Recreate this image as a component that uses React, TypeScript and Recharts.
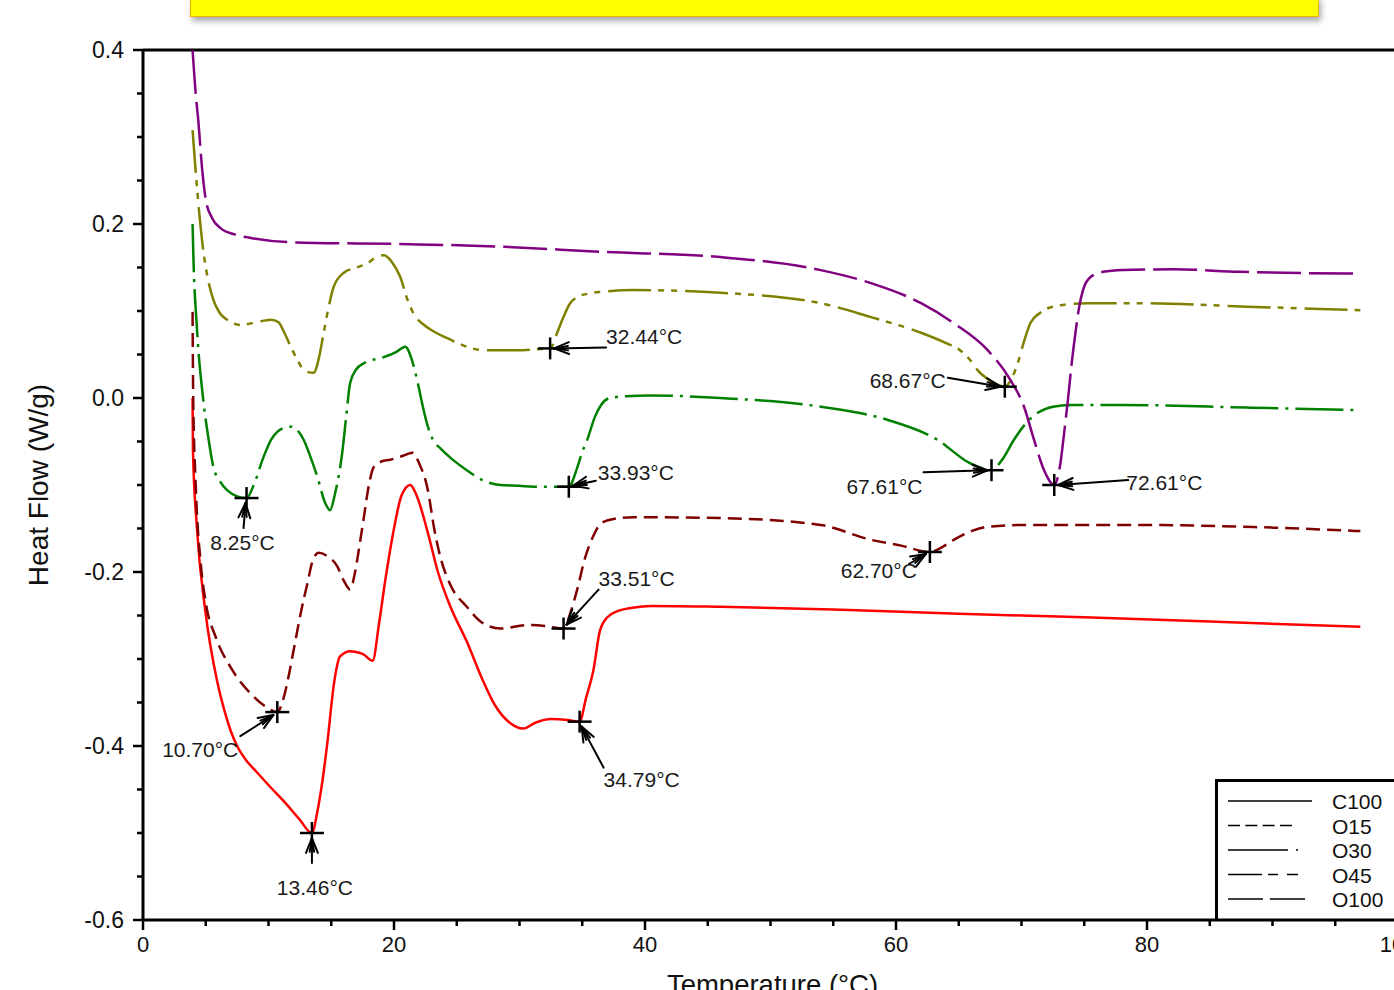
import React from "react";
import { LineChart, Line, XAxis, YAxis, ReferenceLine, ReferenceDot, Legend } from "recharts";

const FONT = '"Liberation Sans", Arial, Helvetica, sans-serif';

const xTicks = [0, 5, 10, 15, 20, 25, 30, 35, 40, 45, 50, 55, 60, 65, 70, 75, 80, 85, 90, 95, 100];
const yTicks = [
  -0.6, -0.55, -0.5, -0.45, -0.4, -0.35, -0.3, -0.25, -0.2, -0.15, -0.1, -0.05, 0, 0.05, 0.1, 0.15, 0.2,
  0.25, 0.3, 0.35, 0.4,
];

// [temperature °C, heat flow W/g]
const c100: [number, number][] = [
  [3.95, 0.0], [3.98, -0.06], [4.3, -0.15], [4.95, -0.243], [5.9, -0.325], [6.5, -0.36], [7.0, -0.383],
  [7.5, -0.4], [8.2, -0.416], [9.0, -0.429], [10.2, -0.448], [11.5, -0.468], [12.5, -0.485],
  [13.46, -0.5], [13.9, -0.475],
  [14.3, -0.44], [14.7, -0.395], [15.2, -0.33], [15.7, -0.297], [16.5, -0.291], [17.5, -0.294],
  [18.3, -0.302], [18.8, -0.26], [19.3, -0.21], [20.0, -0.15], [20.6, -0.112], [21.3, -0.1],
  [21.8, -0.112], [22.7, -0.155], [23.5, -0.2], [24.5, -0.24], [25.8, -0.28], [27.0, -0.322],
  [28.0, -0.352], [29.2, -0.373], [30.3, -0.38], [31.3, -0.373], [32.5, -0.369], [33.8, -0.37],
  [34.79, -0.372], [35.3, -0.345], [35.9, -0.312], [36.4, -0.268], [37.0, -0.252], [37.8, -0.245],
  [39.0, -0.241], [40.5, -0.239], [46, -0.24], [55, -0.243], [65, -0.248], [75, -0.252], [85, -0.257],
  [97, -0.263],
];

const o15: [number, number][] = [
  [3.95, 0.099], [4.0, 0.0], [4.2, -0.1], [4.6, -0.19], [5.0, -0.235], [5.8, -0.275], [7.0, -0.31],
  [8.6, -0.34], [9.7, -0.354], [10.7, -0.361], [11.2, -0.345], [11.6, -0.32], [12.0, -0.29],
  [12.6, -0.245], [13.1, -0.213], [13.5, -0.188], [14.0, -0.178], [14.6, -0.181], [15.5, -0.194],
  [16.0, -0.21], [16.5, -0.22], [16.9, -0.2], [17.3, -0.165], [17.6, -0.137], [18.0, -0.1],
  [18.4, -0.079], [19.0, -0.073], [19.7, -0.071], [20.6, -0.067], [21.5, -0.063], [22.0, -0.075],
  [22.7, -0.106], [23.2, -0.15], [23.7, -0.183], [24.5, -0.215], [25.8, -0.24], [27.0, -0.258],
  [28.5, -0.265], [30.6, -0.261], [32.0, -0.262], [33.51, -0.265], [34.1, -0.245], [34.6, -0.22],
  [35.2, -0.185], [35.9, -0.158], [36.5, -0.144], [37.5, -0.139], [39.1, -0.137], [46, -0.138],
  [54, -0.146], [58, -0.163], [60.5, -0.17], [62.7, -0.177], [63.6, -0.172], [64.6, -0.163],
  [66, -0.153], [67.3, -0.148], [69.9, -0.146], [80, -0.146], [90, -0.149], [97, -0.153],
];

const o30: [number, number][] = [
  [3.95, 0.2], [4.0, 0.17], [4.3, 0.08], [4.8, -0.002], [5.2, -0.045], [5.6, -0.079], [6.1, -0.095],
  [6.7, -0.106], [7.5, -0.113], [8.25, -0.115], [8.9, -0.097], [9.6, -0.068], [10.2, -0.048],
  [10.7, -0.039], [11.3, -0.034], [11.8, -0.033], [12.3, -0.037], [12.8, -0.048], [13.4, -0.07],
  [13.9, -0.091], [14.5, -0.12], [14.9, -0.129], [15.3, -0.11], [15.9, -0.06], [16.2, -0.02],
  [16.5, 0.017], [17.0, 0.033], [17.6, 0.04], [19.2, 0.047], [20.2, 0.053], [20.9, 0.059],
  [21.4, 0.045], [21.9, 0.017], [22.3, -0.01], [22.7, -0.033], [23.1, -0.048], [23.7, -0.058],
  [24.6, -0.07], [25.8, -0.083], [27.0, -0.094], [28.5, -0.1], [30.0, -0.101], [31.1, -0.102],
  [32.5, -0.102], [33.93, -0.102], [34.6, -0.08], [35.0, -0.062], [35.4, -0.048], [36.0, -0.022],
  [36.5, -0.008], [37.2, 0.0], [38.5, 0.002], [40.4, 0.003], [46, 0.0], [54, -0.01], [59.3, -0.025],
  [63.3, -0.048], [65.9, -0.075], [67.61, -0.083], [68.5, -0.07], [69.4, -0.048], [70.3, -0.03],
  [71.3, -0.017], [72.5, -0.01], [73.9, -0.008], [78, -0.008], [88, -0.011], [97, -0.014],
];

const o45: [number, number][] = [
  [3.95, 0.308], [4.2, 0.26], [4.5, 0.21], [4.8, 0.17], [5.2, 0.135], [5.6, 0.113], [6.1, 0.098],
  [6.7, 0.09], [7.8, 0.084], [9.0, 0.087], [10.2, 0.09], [10.8, 0.087], [11.2, 0.077], [11.8, 0.058],
  [12.3, 0.044], [12.9, 0.031], [13.6, 0.029], [14.0, 0.045], [14.4, 0.075], [14.8, 0.105],
  [15.2, 0.128], [16.0, 0.144], [17.0, 0.15], [17.9, 0.155], [18.6, 0.162], [19.2, 0.164],
  [19.8, 0.157], [20.5, 0.139], [21.1, 0.112], [21.6, 0.096], [22.3, 0.085], [23.1, 0.077],
  [24.5, 0.067], [26.0, 0.058], [27.1, 0.055], [29.8, 0.055], [31.3, 0.056], [32.44, 0.057],
  [33.0, 0.075], [33.5, 0.093], [34.0, 0.108], [34.6, 0.116], [35.5, 0.12], [36.5, 0.122],
  [39.1, 0.124], [46, 0.121], [54, 0.109], [58, 0.093], [62, 0.075], [64, 0.063], [65.1, 0.055],
  [66.0, 0.042], [66.5, 0.032], [67.5, 0.02], [68.67, 0.013], [69.2, 0.022], [69.7, 0.04],
  [70.2, 0.065], [70.7, 0.086], [71.5, 0.098], [72.5, 0.105], [75.2, 0.109], [79.5, 0.109],
  [88, 0.105], [97, 0.101],
];

const o100: [number, number][] = [
  [3.95, 0.4], [4.2, 0.35], [4.4, 0.32], [4.7, 0.265], [5.0, 0.228], [5.5, 0.207], [6.2, 0.195],
  [7.3, 0.188], [8.6, 0.184], [11.8, 0.179], [20.5, 0.177], [28.5, 0.174], [36.5, 0.168], [46, 0.162],
  [54, 0.147], [58, 0.132], [62, 0.109], [64.6, 0.086], [67.3, 0.055], [69.1, 0.021], [70.2, -0.01],
  [71.0, -0.048], [71.8, -0.083], [72.61, -0.1], [73.1, -0.075], [73.4, -0.04], [73.7, -0.002],
  [74.0, 0.04], [74.3, 0.075], [74.6, 0.105], [74.9, 0.124], [75.5, 0.139], [76.5, 0.145],
  [78.1, 0.147], [82.1, 0.148], [87.4, 0.145], [97, 0.143],
];

const toRows = (pts: [number, number][]) => pts.map(([t, h]) => ({ t, h }));

const series = [
  { name: "C100", data: toRows(c100), color: "#ff0000", dash: undefined, legendDash: undefined },
  { name: "O15", data: toRows(o15), color: "#800000", dash: "14 7", legendDash: "12 5.3 12 5.3 12 5.3 12 60" },
  { name: "O30", data: toRows(o30), color: "#008000", dash: "48 7 3 7", legendDash: "60 8 2 60" },
  { name: "O45", data: toRows(o45), color: "#808000", dash: "43 7 6 7 6 8", legendDash: "34 6 10 9 11 60" },
  { name: "O100", data: toRows(o100), color: "#800080", dash: "44 8", legendDash: "35 7 35 60" },
];

// onset / peak markers: value point plus pixel offsets for arrow and text
const annotations = [
  { t: 8.25, h: -0.115, label: "8.25°C", tail: [-3, 30], tip: [-1, 5], text: [-4, 52], anchor: "middle" },
  { t: 10.7, h: -0.361, label: "10.70°C", tail: [-37, 24], tip: [-4, 3], text: [-39, 45], anchor: "end" },
  { t: 13.46, h: -0.5, label: "13.46°C", tail: [0, 30], tip: [0, 5], text: [3, 62], anchor: "middle" },
  { t: 32.44, h: 0.057, label: "32.44°C", tail: [56, -1], tip: [4, 0], text: [56, -4], anchor: "start" },
  { t: 33.93, h: -0.102, label: "33.93°C", tail: [27, -6], tip: [4, -1], text: [29, -7], anchor: "start" },
  { t: 33.51, h: -0.265, label: "33.51°C", tail: [35, -39], tip: [3, -4], text: [35, -43], anchor: "start" },
  { t: 34.79, h: -0.372, label: "34.79°C", tail: [24, 46], tip: [2, 5], text: [24, 65], anchor: "start" },
  { t: 68.67, h: 0.013, label: "68.67°C", tail: [-57, -9], tip: [-4, 0], text: [-59, 1], anchor: "end" },
  { t: 67.61, h: -0.083, label: "67.61°C", tail: [-68, 2], tip: [-4, 0], text: [-69, 24], anchor: "end" },
  { t: 62.7, h: -0.177, label: "62.70°C", tail: [-21, 12], tip: [-4, 2], text: [-13, 26], anchor: "end" },
  { t: 72.61, h: -0.1, label: "72.61°C", tail: [74, -5], tip: [4, 0], text: [72, 5], anchor: "start" },
];

type Ann = (typeof annotations)[number];

function Annotation({ cx, cy, a }: { cx: number; cy: number; a: Ann }) {
  const x1 = cx + a.tail[0];
  const y1 = cy + a.tail[1];
  const x2 = cx + a.tip[0];
  const y2 = cy + a.tip[1];
  const ang = Math.atan2(y2 - y1, x2 - x1);
  const barb = (da: number, len: number) => {
    const b = ang + Math.PI + da;
    return <line x1={x2} y1={y2} x2={x2 + len * Math.cos(b)} y2={y2 + len * Math.sin(b)} />;
  };
  return (
    <g>
      <g stroke="#000" strokeWidth={2.5} fill="none">
        <line x1={cx - 12} y1={cy} x2={cx + 12} y2={cy} />
        <line x1={cx} y1={cy - 11} x2={cx} y2={cy + 11} />
      </g>
      <g stroke="#000" strokeWidth={2} strokeLinecap="round">
        <line x1={x1} y1={y1} x2={x2} y2={y2} />
        {barb(0.38, 16)}
        {barb(-0.38, 16)}
        {barb(0.16, 14)}
        {barb(-0.16, 14)}
      </g>
      <text
        x={cx + a.text[0]}
        y={cy + a.text[1]}
        textAnchor={a.anchor as any}
        fontSize={21}
        fontFamily={FONT}
        fill="#1a1a1a"
      >
        {a.label}
      </text>
    </g>
  );
}

const isMajor = (v: number, step: number) => Math.abs(Math.round(v * 100)) % step === 0;

const XTick = ({ x, y, payload }: any) => {
  const major = isMajor(payload.value, 2000);
  return (
    <g>
      <line x1={x} x2={x} y1={y} y2={y + (major ? 10 : 6)} stroke="#000" strokeWidth={2.5} />
      {major && (
        <text x={x} y={y + 32} textAnchor="middle" fontSize={22} fontFamily={FONT} fill="#111">
          {payload.value}
        </text>
      )}
    </g>
  );
};

const YTick = ({ x, y, payload }: any) => {
  const major = isMajor(payload.value, 20);
  return (
    <g>
      <line x1={x} x2={x - (major ? 10 : 6)} y1={y} y2={y} stroke="#000" strokeWidth={2.5} />
      {major && (
        <text x={x - 19} y={y + 8} textAnchor="end" fontSize={23} fontFamily={FONT} fill="#111">
          {payload.value.toFixed(1)}
        </text>
      )}
    </g>
  );
};

const renderLegend = () => (
  <svg width={230} height={142} style={{ display: "block" }}>
    <path d="M1.5 142 V1.5 H230" stroke="#000" strokeWidth={3} fill="none" />
    {series.map((s, i) => {
      const y = 22 + i * 24.5;
      return (
        <g key={s.name}>
          <line x1={13} x2={97} y1={y} y2={y} stroke="#000" strokeWidth={1.5} strokeDasharray={s.legendDash} />
          <text x={117} y={y + 8} fontSize={21} fontFamily={FONT} fill="#111">
            {s.name}
          </text>
        </g>
      );
    })}
  </svg>
);

export default function App() {
  return (
    <div
      style={{
        position: "absolute",
        left: 0,
        top: 0,
        width: 1394,
        height: 990,
        overflow: "hidden",
        background: "#fff",
      }}
    >
      <div
        style={{
          position: "absolute",
          left: 190,
          top: -4,
          width: 1127,
          height: 19,
          background: "#ffff00",
          border: "1px solid #f2b400",
          boxShadow: "2px 4px 6px rgba(0,0,0,0.35)",
          zIndex: 2,
        }}
      />
      <LineChart width={1440} height={990} margin={{ top: 50, right: 42, bottom: 0, left: 0 }}>
        <XAxis
          type="number"
          dataKey="t"
          domain={[0, 100]}
          ticks={xTicks}
          interval={0}
          allowDataOverflow
          height={70}
          tickSize={0}
          tickMargin={0}
          tickLine={false}
          tick={<XTick />}
          axisLine={{ stroke: "#000", strokeWidth: 3 }}
          label={(p: any) => (
            <text
              x={p.viewBox.x + p.viewBox.width / 2 + 2}
              y={994}
              textAnchor="middle"
              fontSize={27.5}
              fontFamily={FONT}
              fill="#111"
            >
              Temperature (°C)
            </text>
          )}
        />
        <YAxis
          type="number"
          dataKey="h"
          domain={[-0.6, 0.4]}
          ticks={yTicks}
          interval={0}
          allowDataOverflow
          width={143}
          tickSize={0}
          tickMargin={0}
          tickLine={false}
          tick={<YTick />}
          axisLine={{ stroke: "#000", strokeWidth: 3 }}
          label={(p: any) => (
            <text
              x={38}
              y={p.viewBox.y + p.viewBox.height / 2}
              transform={`rotate(-90 38 ${p.viewBox.y + p.viewBox.height / 2})`}
              textAnchor="middle"
              dominantBaseline="central"
              fontSize={28}
              fontFamily={FONT}
              fill="#111"
            >
              Heat Flow (W/g)
            </text>
          )}
        />
        <ReferenceLine y={0.4} stroke="#000" strokeWidth={3} />
        {series.map((s) => (
          <Line
            key={s.name}
            name={s.name}
            data={s.data}
            dataKey="h"
            type="monotone"
            stroke={s.color}
            strokeWidth={2.5}
            strokeDasharray={s.dash}
            dot={false}
            activeDot={false}
            isAnimationActive={false}
          />
        ))}
        {annotations.map((a) => (
          <ReferenceDot
            key={a.label}
            x={a.t}
            y={a.h}
            r={0}
            shape={(p: any) => <Annotation cx={p.cx} cy={p.cy} a={a} />}
          />
        ))}
        <Legend
          layout="vertical"
          align="center"
          verticalAlign="middle"
          content={renderLegend}
          wrapperStyle={{ left: 1215, top: 779, width: 230, height: 142 }}
        />
      </LineChart>
    </div>
  );
}
